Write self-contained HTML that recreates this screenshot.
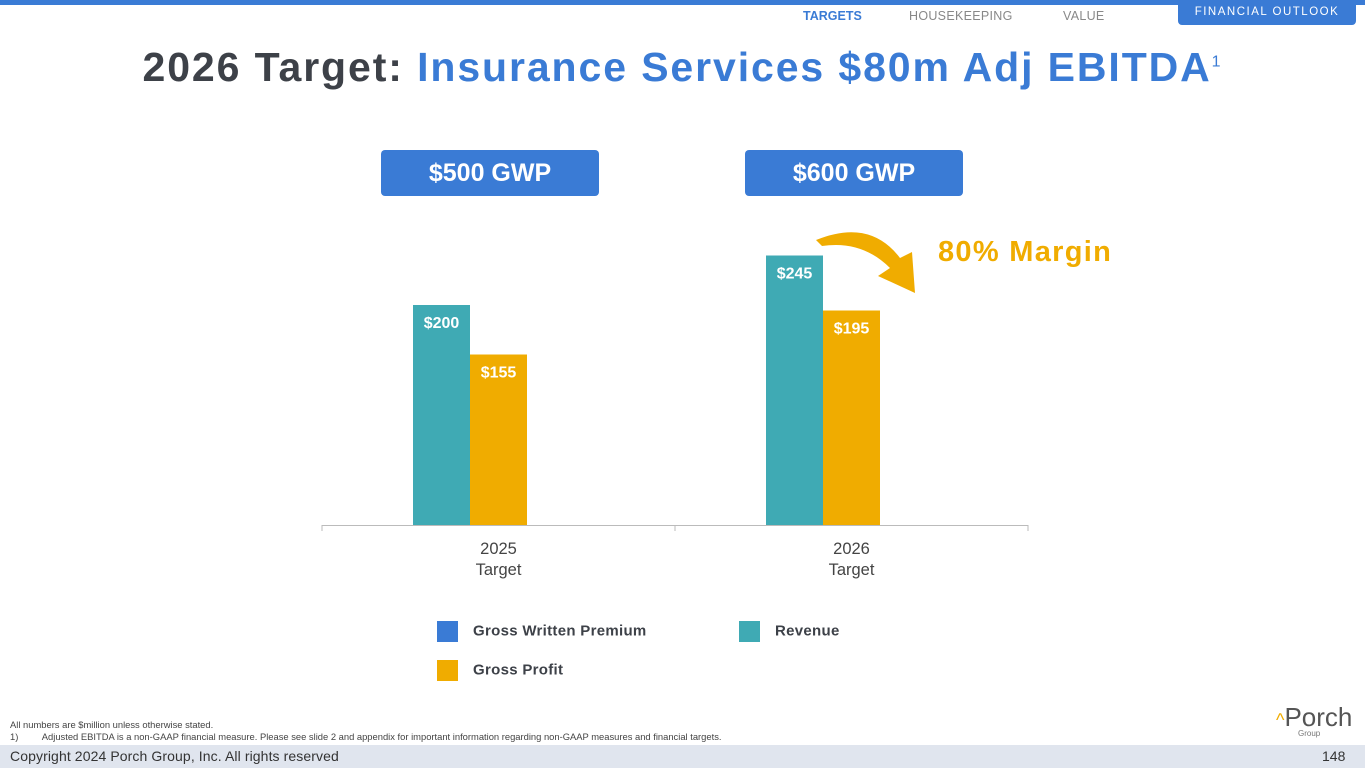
<!DOCTYPE html>
<html><head><meta charset="utf-8"><style>
body{margin:0;width:1365px;height:768px;position:relative;overflow:hidden;background:#fff;font-family:"Liberation Sans",sans-serif}
.a{position:absolute}
</style></head><body>
<div class="a" style="left:0;top:0;width:1365px;height:5px;background:#3a7bd5"></div>
<div class="a" style="left:803px;top:9px;font-size:12.5px;font-weight:bold;color:#3a7bd5">TARGETS</div>
<div class="a" style="left:909px;top:9px;font-size:12.5px;color:#888;letter-spacing:0.3px">HOUSEKEEPING</div>
<div class="a" style="left:1063px;top:9px;font-size:12.5px;color:#888;letter-spacing:0.3px">VALUE</div>
<div class="a" style="left:1178px;top:0;width:178px;height:25px;background:#3a7bd5;border-radius:0 0 4px 4px;color:#fff;font-size:11.5px;letter-spacing:1.5px;text-align:center;line-height:24px">FINANCIAL OUTLOOK</div>
<div class="a" style="left:0;width:1365px;top:44px;text-align:center;font-size:41px;font-weight:bold;color:#3d4148;letter-spacing:1.9px;white-space:nowrap">2026 Target: <span style="color:#3a7bd5">Insurance Services $80m Adj EBITDA</span><sup style="font-size:16px;font-weight:normal;color:#3a7bd5">1</sup></div>
<div class="a" style="left:381px;top:150px;width:218px;height:46px;background:#3a7bd5;border-radius:4px;color:#fff;font-size:25px;font-weight:bold;text-align:center;line-height:46px">$500 GWP</div>
<div class="a" style="left:745px;top:150px;width:218px;height:46px;background:#3a7bd5;border-radius:4px;color:#fff;font-size:25px;font-weight:bold;text-align:center;line-height:46px">$600 GWP</div>
<div class="a" style="left:938px;top:236px;font-size:29px;font-weight:bold;color:#f0ac00;letter-spacing:1.3px">80% Margin</div>
<svg class="a" style="left:0;top:0" width="1365" height="768" id="chart">
<path d="M816 240 Q870 218 900 258 L912 252 L915 293 L878 276 L890 268 Q862 240 822 246 Z" fill="#f0ac00"/>
</svg>
<div class="a" style="left:437px;top:621px;font-size:15px;font-weight:bold;color:#3d4148;letter-spacing:0.3px"><span style="display:inline-block;width:21px;height:21px;background:#3a7bd5;vertical-align:middle;margin-right:15px"></span>Gross Written Premium</div>
<div class="a" style="left:739px;top:621px;font-size:15px;font-weight:bold;color:#3d4148;letter-spacing:0.3px"><span style="display:inline-block;width:21px;height:21px;background:#3faab4;vertical-align:middle;margin-right:15px"></span>Revenue</div>
<div class="a" style="left:437px;top:660px;font-size:15px;font-weight:bold;color:#3d4148;letter-spacing:0.3px"><span style="display:inline-block;width:21px;height:21px;background:#f0ac00;vertical-align:middle;margin-right:15px"></span>Gross Profit</div>
<div class="a" style="left:10px;top:719px;font-size:9.4px;color:#444;line-height:11.5px;white-space:nowrap">All numbers are $million unless otherwise stated.<br>1)&nbsp;&nbsp;&nbsp;&nbsp;&nbsp;&nbsp;&nbsp;&nbsp;&nbsp;Adjusted EBITDA is a non-GAAP financial measure. Please see slide 2 and appendix for important information regarding non-GAAP measures and financial targets.</div>
<div class="a" style="left:1276px;top:702px;font-size:26px;color:#555"><span style="color:#f0ac00;font-size:18px">^</span>Porch<div style="font-size:8px;color:#777;margin-left:22px;margin-top:-4px">Group</div></div>
<div class="a" style="left:0;top:745px;width:1365px;height:23px;background:#e0e5ee"></div>
<div class="a" style="left:10px;top:748px;font-size:14px;color:#333;letter-spacing:0.1px">Copyright 2024 Porch Group, Inc. All rights reserved</div>
<div class="a" style="left:1322px;top:748px;font-size:14px;color:#333">148</div>
<script>
const categories=["2025","2026"];
const revenue=[200,245];
const grossProfit=[155,195];
const svg=document.getElementById('chart');
const NS='http://www.w3.org/2000/svg';
const base=525,scale=1.1,groupW=353,left=322;
function y(v){return base-v*scale;}
function cx(i){return left+groupW*(i+0.5);}
function mk(t,a){const e=document.createElementNS(NS,t);for(const k in a)e.setAttribute(k,a[k]);svg.appendChild(e);return e;}
const ax=mk('line',{x1:left,x2:left+groupW*categories.length,y1:base+0.5,y2:base+0.5,stroke:'#bbb'});


for(let i=0;i<=categories.length;i++){const t=mk('line',{x1:left+groupW*i,x2:left+groupW*i,y1:base,y2:base+6,stroke:'#bbb'});

}
categories.forEach((c,i)=>{
 const x=cx(i);
 [[revenue[i],'#3faab4',x-85.5,'revenue'],[grossProfit[i],'#f0ac00',x-28.5,'gross-profit']].forEach(([v,col,bx,n])=>{
  const r=mk('rect',{x:bx,y:y(v),width:57,height:v*scale,fill:col});
  
  
  const t=mk('text',{x:bx+28.5,y:y(v)+23,'text-anchor':'middle','font-size':16,'font-weight':'bold',fill:'#fff','font-family':'Liberation Sans'});
  t.textContent='$'+v;
  
  
 });
 const l1=mk('text',{x:x,y:554,'text-anchor':'middle','font-size':16.5,fill:'#444','font-family':'Liberation Sans'});l1.textContent=c;
 
 
 const l2=mk('text',{x:x,y:575,'text-anchor':'middle','font-size':16.5,fill:'#444','font-family':'Liberation Sans'});l2.textContent='Target';
 
 
});
</script>
</body></html>
